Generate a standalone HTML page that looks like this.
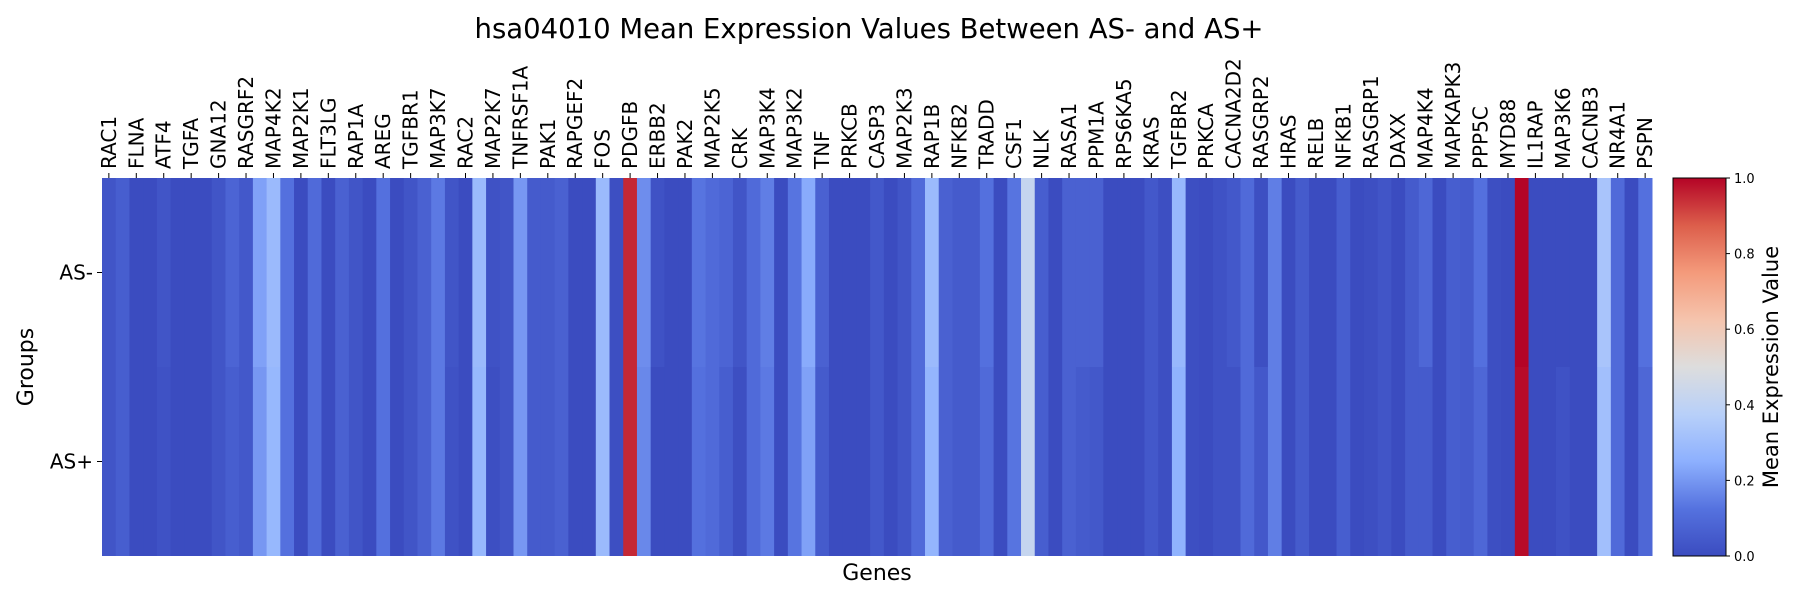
<!DOCTYPE html>
<html><head><meta charset="utf-8"><style>
html,body{margin:0;padding:0;background:#fff;}
svg{display:block;font-family:"DejaVu Sans","Liberation Sans",sans-serif;}
</style></head><body>
<svg id="chart" width="1800" height="600" viewBox="0 0 1800 600" xmlns="http://www.w3.org/2000/svg">
<defs>
<linearGradient id="cbgrad" x1="0" y1="1" x2="0" y2="0">
<stop offset="0" stop-color="#3b4cc0"/><stop offset="0.125" stop-color="#5572df"/>
<stop offset="0.25" stop-color="#8db0fe"/><stop offset="0.375" stop-color="#b8d0f9"/>
<stop offset="0.5" stop-color="#dddddd"/><stop offset="0.625" stop-color="#f5c4ad"/>
<stop offset="0.75" stop-color="#f49a7b"/><stop offset="0.875" stop-color="#dc5e4b"/>
<stop offset="1" stop-color="#b40426"/>
</linearGradient>
</defs>
<text x="869" y="38" font-size="27.5" text-anchor="middle">hsa04010 Mean Expression Values Between AS- and AS+</text>
<g id="cells"></g>
<g id="xticks"></g>
<g id="yticks"></g>
<text x="877" y="580" font-size="22" text-anchor="middle">Genes</text>
<text transform="translate(33,367) rotate(-90)" font-size="22" text-anchor="middle">Groups</text>
<rect x="1673" y="178" width="53" height="378" fill="url(#cbgrad)" stroke="#000" stroke-width="1"/>
<g id="cbticks"></g>
<text transform="translate(1778,367) rotate(-90)" font-size="21" text-anchor="middle">Mean Expression Value</text>
</svg>
<script>
const genes = ["RAC1","FLNA","ATF4","TGFA","GNA12","RASGRF2","MAP4K2","MAP2K1","FLT3LG","RAP1A","AREG","TGFBR1","MAP3K7","RAC2","MAP2K7","TNFRSF1A","PAK1","RAPGEF2","FOS","PDGFB","ERBB2","PAK2","MAP2K5","CRK","MAP3K4","MAP3K2","TNF","PRKCB","CASP3","MAP2K3","RAP1B","NFKB2","TRADD","CSF1","NLK","RASA1","PPM1A","RPS6KA5","KRAS","TGFBR2","PRKCA","CACNA2D2","RASGRP2","HRAS","RELB","NFKB1","RASGRP1","DAXX","MAP4K4","MAPKAPK3","PPP5C","MYD88","IL1RAP","MAP3K6","CACNB3","NR4A1","PSPN"];
const groups = ["AS-","AS+"];
const rowASminus = [0.03,0.06,0,0,0.03,0,0,0,0.03,0.08,0.04,0.22,0.29,0.12,0,0.1,0,0.07,0.03,0,0.12,0,0.03,0.07,0.14,0.03,0,0.29,
0.02,0.03,0.2,0.05,0.05,0.07,0,0,0.29,0.01,0.95,0.18,0.02,0,0,0.13,0.1,0.08,0.03,0.1,0.15,0,0.13,0.24,0.07,0,0,0,0.04,
0,0.03,0.1,0.29,0.07,0.05,0.05,0.12,0,0.13,0.42,0.06,0,0.07,0.07,0.07,0,0,0,0.04,0.01,0.28,0.01,0,0.02,0.04,0.1,0.01,
0.15,0,0.05,0,0,0.06,0,0.01,0.03,0,0.05,0.09,0,0.06,0.05,0.12,0.01,0,1.0,0,0,0,0,0,0.33,0.1,0,0.12];
const rowASplus = [0.03,0.06,0,0,0.02,0,0,0,0.03,0.06,0.04,0.2,0.28,0.12,0,0.1,0,0.07,0.03,0,0.12,0,0.03,0.07,0.14,0.02,0,0.28,
0.01,0.03,0.2,0.05,0.05,0.07,0,0,0.29,0.01,0.95,0.17,0,0,0,0.12,0.1,0.06,0.01,0.1,0.14,0,0.13,0.22,0.05,0,0,0,0.04,
0,0.03,0.1,0.27,0.07,0.05,0.05,0.1,0,0.13,0.42,0.06,0,0.07,0.05,0.04,0,0,0,0.04,0.01,0.26,0.01,0,0.02,0.02,0.1,0.04,
0.15,0,0.05,0,0,0.06,0,0.01,0.03,0,0.05,0.05,0,0.06,0.05,0.09,0.01,0,0.99,0,0,0.02,0,0,0.31,0.1,0,0.09];
const cbTicks = ["0.0","0.2","0.4","0.6","0.8","1.0"];

const X0=102, X1=1652, Y0=178, Y1=556;
const nCols = rowASminus.length;
const cw = (X1-X0)/nCols, rh=(Y1-Y0)/groups.length;
const xPos = i => X0 + i*cw;
const yPos = r => Y0 + r*rh;
const stops=[[0,[59,76,192]],[0.125,[85,114,223]],[0.25,[141,176,254]],[0.375,[184,208,249]],[0.5,[221,221,221]],[0.625,[245,196,173]],[0.75,[244,154,123]],[0.875,[220,94,75]],[1,[180,4,38]]];
function cmap(v){v=Math.max(0,Math.min(1,v));for(let i=1;i<stops.length;i++){if(v<=stops[i][0]){const a=stops[i-1],b=stops[i],t=(v-a[0])/(b[0]-a[0]);return 'rgb('+a[1].map((c,k)=>Math.round(c+(b[1][k]-c)*t)).join(',')+')';}}return 'rgb(180,4,38)';}
const NS="http://www.w3.org/2000/svg";
const cells=document.getElementById('cells');
[rowASminus,rowASplus].forEach((row,r)=>{row.forEach((v,i)=>{
 const el=document.createElementNS(NS,'rect');
 
 
 el.setAttribute('x',xPos(i));el.setAttribute('y',yPos(r));
 el.setAttribute('width',cw+0.5);el.setAttribute('height',rh);
 el.setAttribute('fill',cmap(v));cells.appendChild(el);});});
const xt=document.getElementById('xticks');
genes.forEach((g,k)=>{const cx=xPos(2*k)+cw/2;
 const ln=document.createElementNS(NS,'line');
 
 
 ln.setAttribute('x1',cx);ln.setAttribute('x2',cx);ln.setAttribute('y1',Y0-5);ln.setAttribute('y2',Y0);ln.setAttribute('stroke','#000');xt.appendChild(ln);
 const t=document.createElementNS(NS,'text');
 
 
 t.setAttribute('transform','translate('+(cx+7)+','+(Y0-9)+') rotate(-90)');
 t.setAttribute('font-size','20');t.textContent=g;xt.appendChild(t);});
const yt=document.getElementById('yticks');
groups.forEach((g,r)=>{const cy=yPos(r)+rh/2;
 const ln=document.createElementNS(NS,'line');
 
 
 ln.setAttribute('x1',X0-5);ln.setAttribute('x2',X0);ln.setAttribute('y1',cy);ln.setAttribute('y2',cy);ln.setAttribute('stroke','#000');yt.appendChild(ln);
 const t=document.createElementNS(NS,'text');
 
 
 t.setAttribute('x',X0-9);t.setAttribute('y',cy+7);t.setAttribute('text-anchor','end');t.setAttribute('font-size','20');t.textContent=g;yt.appendChild(t);});
const cb=document.getElementById('cbticks');
cbTicks.forEach(s=>{const y=Y1-parseFloat(s)*(Y1-Y0);
 const ln=document.createElementNS(NS,'line');
 
 
 ln.setAttribute('x1',1726);ln.setAttribute('x2',1730);ln.setAttribute('y1',y);ln.setAttribute('y2',y);ln.setAttribute('stroke','#000');cb.appendChild(ln);
 const t=document.createElementNS(NS,'text');
 
 
 t.setAttribute('x',1734);t.setAttribute('y',y+5);t.setAttribute('font-size','13');t.textContent=s;cb.appendChild(t);});
</script>
</body></html>
